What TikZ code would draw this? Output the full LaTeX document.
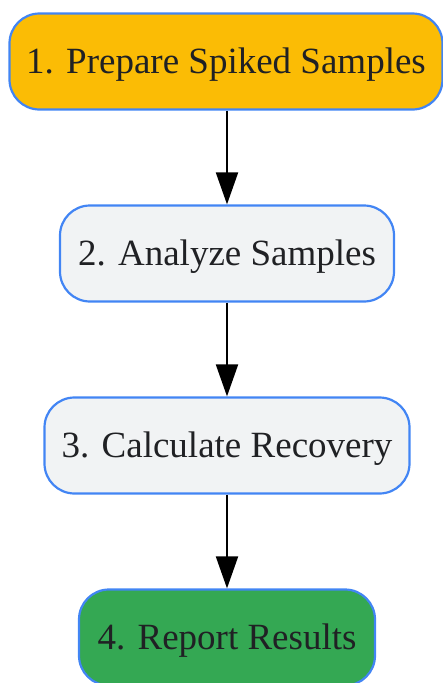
\documentclass[tikz,border=0pt]{standalone}
\usepackage{fontspec}
\setmainfont{Liberation Serif}
\usetikzlibrary{arrows.meta}
\definecolor{nodeborder}{HTML}{4285F4}
\definecolor{orangefill}{HTML}{FBBC05}
\definecolor{grayfill}{HTML}{F1F3F4}
\definecolor{greenfill}{HTML}{34A853}
\definecolor{textdark}{HTML}{202124}
\begin{document}
\begin{tikzpicture}[x=1pt,y=-1pt,
  stepbox/.style={draw=nodeborder, line width=2.2pt, rounded corners=30pt,
    inner sep=0pt, minimum height=96pt, text=textdark,
    text height=24.5pt, text depth=0pt,
    font=\fontsize{37}{44}\selectfont},
  flowarrow/.style={draw=black, line width=2pt, -{Triangle[length=32pt,width=22pt]}}]
\useasboundingbox (0,0) rectangle (443,683);
\node[stepbox, fill=orangefill, minimum width=433pt] (s1) at (226,61.5) {1. Prepare Spiked Samples};
\node[stepbox, fill=grayfill, minimum width=334pt] (s2) at (227,253.5) {2. Analyze Samples};
\node[stepbox, fill=grayfill, minimum width=365pt] (s3) at (227,445.5) {3. Calculate Recovery};
\node[stepbox, fill=greenfill, minimum width=296pt] (s4) at (227,637.5) {4. Report Results};
\draw[flowarrow] (s1.south -| s2.north) -- (s2.north);
\draw[flowarrow] (s2) -- (s3);
\draw[flowarrow] (s3) -- (s4);
\end{tikzpicture}
\end{document}
